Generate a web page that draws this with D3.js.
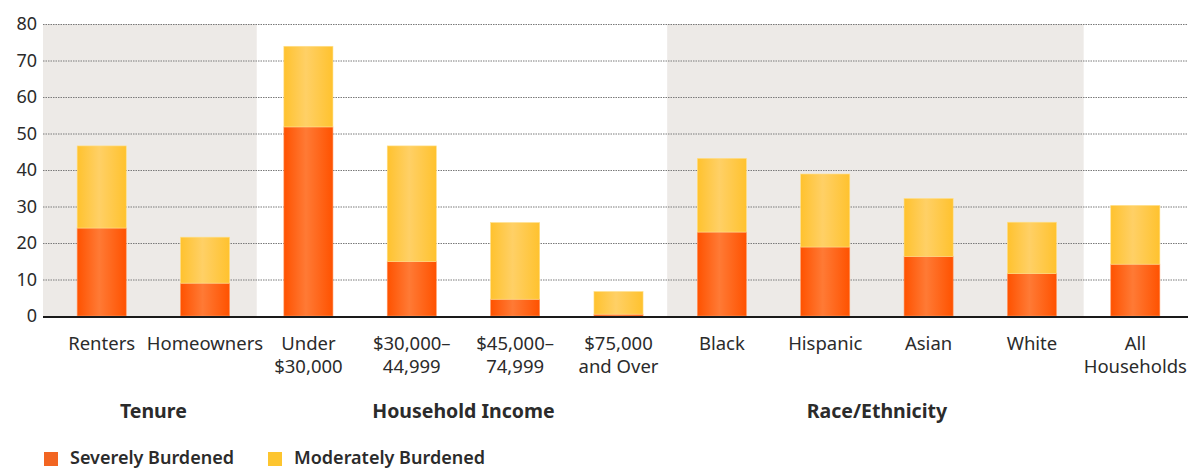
<!DOCTYPE html>
<html>
<head>
<meta charset="utf-8">
<script src="https://cdn.jsdelivr.net/npm/d3@7"></script>
<style>
  body { margin: 0; background: #fff; }
  svg text { font-family: "Noto Sans", sans-serif; fill: #2b2b2b; }
</style>
</head>
<body>
<svg id="chart"></svg>
<script>
const categories = [
  ["Renters"], ["Homeowners"], ["Under", "$30,000"], ["$30,000–", "44,999"],
  ["$45,000–", "74,999"], ["$75,000", "and Over"], ["Black"], ["Hispanic"],
  ["Asian"], ["White"], ["All", "Households"]
];
const severe = [24.1, 9.0, 51.8, 14.9, 4.6, 0.5, 23.0, 18.9, 16.3, 11.6, 14.2];
const moderate = [22.5, 12.6, 22.1, 31.7, 21.0, 6.2, 20.2, 20.0, 15.9, 14.1, 16.1];
const groups = [
  { name: "Tenure", from: 0, to: 1, shaded: true },
  { name: "Household Income", from: 2, to: 5, shaded: false },
  { name: "Race/Ethnicity", from: 6, to: 9, shaded: true }
];
const yTicks = [0, 10, 20, 30, 40, 50, 60, 70, 80];
const seriesNames = ["Severely Burdened", "Moderately Burdened"];

const width = 1188, height = 470;
const margin = { top: 24, left: 43, right: 0, bottom: 154 };
const plotBottom = height - margin.bottom;

const svg = d3.select("#chart").attr("width", width).attr("height", height);

const x = d3.scaleBand()
  .domain(d3.range(categories.length))
  .range([50, 1187])
  .paddingInner(0.525)
  .paddingOuter(0.2625);

const y = d3.scaleLinear().domain([0, 80]).range([plotBottom, margin.top]);

// gradients
const defs = svg.append("defs");
const gradColors = [
  { id: "gradSevere", edge: "#ff5200", mid: "#ff7a35" },
  { id: "gradModerate", edge: "#ffc22e", mid: "#ffd066" }
];
gradColors.forEach((g) => {
  const lg = defs.append("linearGradient").attr("id", g.id)
    .attr("x1", "0%").attr("x2", "100%").attr("y1", "0%").attr("y2", "0%");
  lg.append("stop").attr("offset", "0%").style("stop-color", g.edge);
  lg.append("stop").attr("offset", "45%").style("stop-color", g.mid);
  lg.append("stop").attr("offset", "100%").style("stop-color", g.edge);
});

// shaded group backgrounds
const center = (i) => x(i) + x.bandwidth() / 2;
groups.filter((g) => g.shaded).forEach((g) => {
  const x0 = g.from === 0 ? margin.left : (center(g.from - 1) + center(g.from)) / 2 - 3;
  const x1 = (center(g.to) + center(g.to + 1)) / 2;
  svg.append("rect")
    .attr("x", x0).attr("y", margin.top)
    .attr("width", x1 - x0).attr("height", plotBottom - margin.top)
    .attr("fill", "#edeae7");
});

// gridlines
svg.append("g")
  .selectAll("line")
  .data(yTicks.filter((d) => d > 0))
  .join("line")
  .attr("x1", margin.left).attr("x2", width)
  .attr("y1", (d) => y(d) + 0.5).attr("y2", (d) => y(d) + 0.5)
  .attr("stroke", "#7a7a7a")
  .attr("stroke-width", 1)
  .attr("stroke-dasharray", "1.5,1");

// y axis labels
svg.append("g")
  .selectAll("text")
  .data(yTicks)
  .join("text")
  .attr("x", 37)
  .attr("y", (d) => y(d))
  .attr("dy", "0.35em")
  .attr("text-anchor", "end")
  .style("font-size", "18px")
  .text((d) => d);

// bars
const stacked = categories.map((c, i) => ({ i, s: severe[i], m: moderate[i] }));
const bars = svg.append("g");
bars.selectAll("rect.sev")
  .data(stacked)
  .join("rect")
  .attr("class", "sev")
  .attr("x", (d) => x(d.i))
  .attr("width", x.bandwidth())
  .attr("y", (d) => y(d.s))
  .attr("height", (d) => y(0) - y(d.s))
  .attr("fill", "url(#gradSevere)")
  .attr("stroke", "#ff9b66").attr("stroke-width", 0.6);
bars.selectAll("rect.mod")
  .data(stacked)
  .join("rect")
  .attr("class", "mod")
  .attr("x", (d) => x(d.i))
  .attr("width", x.bandwidth())
  .attr("y", (d) => y(d.s + d.m))
  .attr("height", (d) => y(d.s) - y(d.s + d.m))
  .attr("fill", "url(#gradModerate)")
  .attr("stroke", "#ffe08a").attr("stroke-width", 0.6);

// baseline
svg.append("line")
  .attr("x1", margin.left).attr("x2", width)
  .attr("y1", y(0) + 1).attr("y2", y(0) + 1)
  .attr("stroke", "#1a1a1a").attr("stroke-width", 2);

// category labels
const cat = svg.append("g")
  .selectAll("text")
  .data(categories)
  .join("text")
  .attr("text-anchor", "middle")
  .style("font-size", "18.5px")
  .attr("x", (d, i) => center(i))
  .attr("y", 350);
cat.selectAll("tspan")
  .data((d) => d)
  .join("tspan")
  .attr("x", function () { return d3.select(this.parentNode).attr("x"); })
  .attr("dy", (d, j) => (j === 0 ? 0 : 23))
  .text((d) => d);

// group labels
svg.append("g")
  .selectAll("text")
  .data(groups)
  .join("text")
  .attr("text-anchor", "middle")
  .attr("x", (g) => (center(g.from) + center(g.to)) / 2)
  .attr("y", 418)
  .style("font-size", "19.5px")
  .style("font-weight", "bold")
  .text((g) => g.name);

// legend
const legendColors = ["#f26522", "#fdc52f"];
const legendX = [44, 268];
const lg = svg.append("g")
  .selectAll("g")
  .data(seriesNames)
  .join("g")
  .attr("transform", (d, i) => `translate(${legendX[i]},452)`);
lg.append("rect").attr("width", 14).attr("height", 14)
  .attr("fill", (d, i) => legendColors[i]);
lg.append("text").attr("x", 26).attr("y", 6).attr("dy", "0.36em")
  .style("font-size", "18px").style("font-weight", "600")
  .text((d) => d);
</script>
</body>
</html>
